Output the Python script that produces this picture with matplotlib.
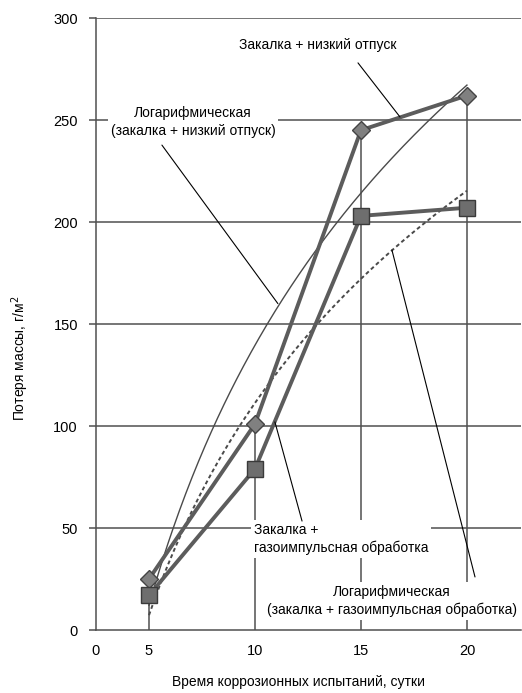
import numpy as np
import matplotlib
matplotlib.use('Agg')
import matplotlib.pyplot as plt

plt.rcParams['font.family'] = ['Liberation Sans Narrow', 'Liberation Sans', 'DejaVu Sans']

# data
days = [5, 10, 15, 20]
loss_low_temper = [25, 101, 245, 262]     # закалка + низкий отпуск
loss_gas_pulse = [17, 79, 203, 207]       # закалка + газоимпульсная обработка
x_ticks = [0, 5, 10, 15, 20]
y_ticks = [0, 50, 100, 150, 200, 250, 300]


# the 0..5 part of the x axis is squeezed in the original
def fwd(x):
    x = np.asarray(x, dtype=float)
    return np.where(x < 5, 5 - (5 - x) * 0.5, x)


def inv(x):
    x = np.asarray(x, dtype=float)
    return np.where(x < 5, 5 - (5 - x) / 0.5, x)


def log_trend(x, y):
    # excel style logarithmic trendline y = a*ln(x) + b
    a, b = np.polyfit(np.log(x), y, 1)
    xs = np.linspace(min(x), max(x), 200)
    return xs, a * np.log(xs) + b


fig = plt.figure(figsize=(5.22, 6.93), dpi=100)
ax = fig.add_axes([96 / 522, 63 / 693, 425 / 522, 612 / 693])
ax.set_xscale('function', functions=(fwd, inv))
ax.set_xlim(0, 22.55)
ax.set_ylim(0, 300)

grid_c = '#505050'
for v in y_ticks[1:]:
    ax.axhline(v, color=grid_c, lw=1.1, zorder=1)

# drop lines
tops = np.maximum(loss_low_temper, loss_gas_pulse)
ax.vlines(days, 0, tops, color=grid_c, lw=1.1, zorder=1)

xs1, ys1 = log_trend(days, loss_low_temper)
xs2, ys2 = log_trend(days, loss_gas_pulse)
ax.plot(xs1, ys1, color='#4a4a4a', lw=1.0, zorder=3)
ax.plot(xs2, ys2, color='#4a4a4a', lw=1.4, ls=(0, (2, 1.5)), zorder=3)

ax.plot(days, loss_low_temper, color='#5c5c5c', lw=2.8, marker='D', ms=9,
        mfc='#808080', mec='#444444', mew=1, zorder=4)
ax.plot(days, loss_gas_pulse, color='#5c5c5c', lw=2.8, marker='s', ms=11,
        mfc='#6e6e6e', mec='#3a3a3a', mew=1, zorder=4)

for s in ['top', 'right']:
    ax.spines[s].set_visible(False)
for s in ['left', 'bottom']:
    ax.spines[s].set_color(grid_c)
    ax.spines[s].set_linewidth(1.1)

ax.set_xticks(x_ticks)
ax.set_yticks(y_ticks)
ax.tick_params(axis='x', length=0, pad=10, labelsize=10.5)
ax.tick_params(axis='y', length=5, width=1.1, color=grid_c, pad=8, labelsize=10.5)

fs = 10
box = dict(facecolor='white', edgecolor='none', pad=2)
lead = dict(arrowstyle='-', color='black', lw=0.8, shrinkA=0, shrinkB=0)

ax.text(12.97, 286.8, 'Закалка + низкий отпуск', ha='center', va='center',
        fontsize=fs, zorder=5, bbox=box)
ax.annotate('', xy=(16.84, 251.5), xytext=(14.86, 278), arrowprops=lead, zorder=5)

ax.text(7.08, 249, 'Логарифмическая\n(закалка + низкий отпуск)', ha='center',
        va='center', fontsize=fs, linespacing=1.3, zorder=2, bbox=box)
ax.annotate('', xy=(11.08, 160), xytext=(5.61, 237.7), arrowprops=lead, zorder=5)

ax.text(9.95, 44.6, 'Закалка +\nгазоимпульсная обработка', ha='left', va='center',
        fontsize=fs, linespacing=1.3, zorder=2, bbox=box)
ax.annotate('', xy=(10.94, 102), xytext=(12.22, 53.4), arrowprops=lead, zorder=5)

ax.text(16.46, 14.2, 'Логарифмическая\n(закалка + газоимпульсная обработка)', ha='center',
        va='center', fontsize=fs, linespacing=1.3, zorder=2, bbox=box)
ax.annotate('', xy=(16.46, 186.3), xytext=(20.38, 26), arrowprops=lead, zorder=5)

fig.text(298 / 522, 1 - 682 / 693, 'Время коррозионных испытаний, сутки',
         ha='center', va='center', fontsize=fs)
fig.text(20 / 522, 1 - 358 / 693, 'Потеря массы, г/м$^2$', rotation=90,
         ha='center', va='center', fontsize=fs)

fig.savefig('out.png', dpi=100)
